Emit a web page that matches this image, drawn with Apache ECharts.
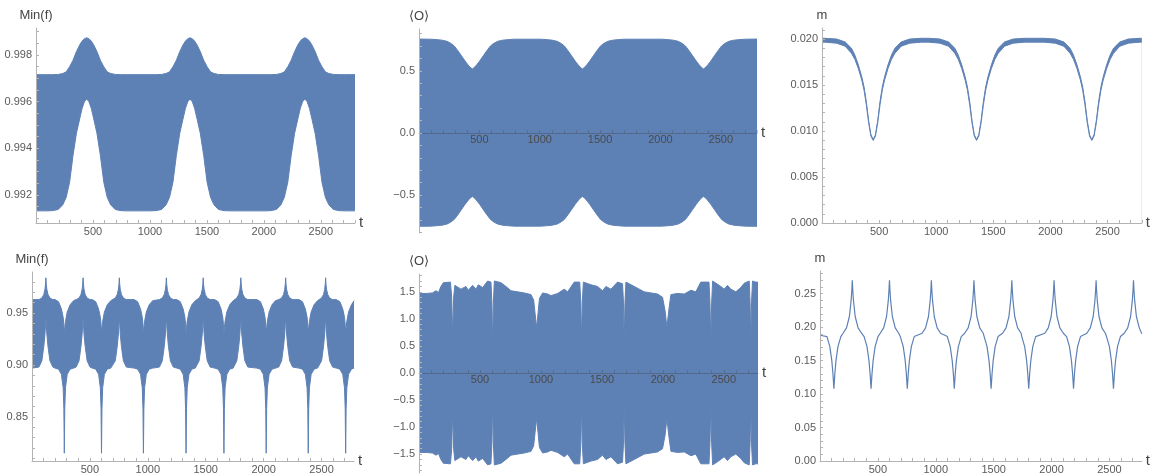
<!DOCTYPE html>
<html>
<head>
<meta charset="utf-8">
<script src="https://cdn.jsdelivr.net/npm/echarts@6/dist/echarts.min.js"></script>
<style>
html,body{margin:0;padding:0;background:#fff;}
#c{width:1151px;height:475px;}
</style>
</head>
<body>
<div id="c"></div>
<script>
// ---------- Panel 1: Min(f), top-left ----------
const T1 = [0,
 95,145,195,235,265,295,325,355,385,405,425,445,465,485,505,535,565,595,625,655,695,745,795,
 1002,1052,1102,1142,1172,1202,1232,1262,1292,1312,1332,1352,1372,1392,1412,1442,1472,1502,1532,1562,1602,1652,1702,
 2010,2060,2110,2150,2180,2210,2240,2270,2300,2320,2340,2360,2380,2400,2420,2450,2480,2510,2540,2570,2610,2660,2710,
 2800];
const F1_UPPER = [0.99716,
 0.99716,0.99716,0.99717,0.99721,0.99728,0.99750,0.99778,0.99815,0.99845,0.99860,0.99870,0.99874,0.99870,0.99860,0.99845,0.99815,0.99778,0.99750,0.99728,0.99721,0.99717,0.99716,0.99716,
 0.99716,0.99716,0.99717,0.99721,0.99728,0.99750,0.99778,0.99815,0.99845,0.99860,0.99870,0.99874,0.99870,0.99860,0.99845,0.99815,0.99778,0.99750,0.99728,0.99721,0.99717,0.99716,0.99716,
 0.99716,0.99716,0.99717,0.99721,0.99728,0.99750,0.99778,0.99815,0.99845,0.99860,0.99870,0.99874,0.99870,0.99860,0.99845,0.99815,0.99778,0.99750,0.99728,0.99721,0.99717,0.99716,0.99716,
 0.99716];
const F1_LOWER = [0.99132,
 0.99132,0.99133,0.99138,0.99158,0.99190,0.99255,0.99370,0.99465,0.99530,0.99572,0.99600,0.99612,0.99600,0.99572,0.99530,0.99465,0.99370,0.99255,0.99190,0.99158,0.99138,0.99133,0.99132,
 0.99132,0.99133,0.99138,0.99158,0.99190,0.99255,0.99370,0.99465,0.99530,0.99572,0.99600,0.99612,0.99600,0.99572,0.99530,0.99465,0.99370,0.99255,0.99190,0.99158,0.99138,0.99133,0.99132,
 0.99132,0.99133,0.99138,0.99158,0.99190,0.99255,0.99370,0.99465,0.99530,0.99572,0.99600,0.99612,0.99600,0.99572,0.99530,0.99465,0.99370,0.99255,0.99190,0.99158,0.99138,0.99133,0.99132,
 0.99132];

// ---------- Panel 2: <O>, top-middle ----------
const T2 = [0,
 92,142,192,232,262,292,322,352,382,402,422,442,462,482,502,532,562,592,622,652,692,742,792,
 1004,1054,1104,1144,1174,1204,1234,1264,1294,1314,1334,1354,1374,1394,1414,1444,1474,1504,1534,1564,1604,1654,1704,
 2007,2057,2107,2147,2177,2207,2237,2267,2297,2317,2337,2357,2377,2397,2417,2447,2477,2507,2537,2567,2607,2657,2707,
 2800];
const O2_UPPER = [0.755,
 0.754,0.751,0.746,0.737,0.722,0.700,0.662,0.620,0.578,0.553,0.530,0.515,0.530,0.553,0.578,0.620,0.662,0.700,0.722,0.737,0.746,0.751,0.754,
 0.754,0.751,0.746,0.737,0.722,0.700,0.662,0.620,0.578,0.553,0.530,0.515,0.530,0.553,0.578,0.620,0.662,0.700,0.722,0.737,0.746,0.751,0.754,
 0.754,0.751,0.746,0.737,0.722,0.700,0.662,0.620,0.578,0.553,0.530,0.515,0.530,0.553,0.578,0.620,0.662,0.700,0.722,0.737,0.746,0.751,0.754,
 0.755];
const O2_LOWER = [-0.750,
 -0.749,-0.746,-0.741,-0.732,-0.717,-0.695,-0.657,-0.615,-0.573,-0.548,-0.525,-0.510,-0.525,-0.548,-0.573,-0.615,-0.657,-0.695,-0.717,-0.732,-0.741,-0.746,-0.749,
 -0.749,-0.746,-0.741,-0.732,-0.717,-0.695,-0.657,-0.615,-0.573,-0.548,-0.525,-0.510,-0.525,-0.548,-0.573,-0.615,-0.657,-0.695,-0.717,-0.732,-0.741,-0.746,-0.749,
 -0.749,-0.746,-0.741,-0.732,-0.717,-0.695,-0.657,-0.615,-0.573,-0.548,-0.525,-0.510,-0.525,-0.548,-0.573,-0.615,-0.657,-0.695,-0.717,-0.732,-0.741,-0.746,-0.749,
 -0.750];

// ---------- Panel 3: m, top-right ----------
const T3 = [0,
 28,128,203,258,288,318,348,368,388,408,428,448,468,488,508,528,548,578,608,638,693,768,868,
 933,1033,1108,1163,1193,1223,1253,1273,1293,1313,1333,1353,1373,1393,1413,1433,1453,1483,1513,1543,1598,1673,1773,
 1942,2042,2117,2172,2202,2232,2262,2282,2302,2322,2342,2362,2382,2402,2422,2442,2462,2492,2522,2552,2607,2682,2782,
 2800];
const M3_UPPER = [0.02008,
 0.02008,0.02000,0.01968,0.01900,0.01825,0.01720,0.01590,0.01480,0.01320,0.01115,0.00960,0.00908,0.00960,0.01115,0.01320,0.01480,0.01590,0.01720,0.01825,0.01900,0.01968,0.02000,0.02008,
 0.02008,0.02000,0.01968,0.01900,0.01825,0.01720,0.01590,0.01480,0.01320,0.01115,0.00960,0.00908,0.00960,0.01115,0.01320,0.01480,0.01590,0.01720,0.01825,0.01900,0.01968,0.02000,0.02008,
 0.02008,0.02000,0.01968,0.01900,0.01825,0.01720,0.01590,0.01480,0.01320,0.01115,0.00960,0.00908,0.00960,0.01115,0.01320,0.01480,0.01590,0.01720,0.01825,0.01900,0.01968,0.02000,0.02008,
 0.02008];
const M3_LOWER = [0.01966,
 0.01966,0.01955,0.01922,0.01845,0.01778,0.01680,0.01555,0.01445,0.01285,0.01090,0.00945,0.00898,0.00945,0.01090,0.01285,0.01445,0.01555,0.01680,0.01778,0.01845,0.01922,0.01955,0.01966,
 0.01966,0.01955,0.01922,0.01845,0.01778,0.01680,0.01555,0.01445,0.01285,0.01090,0.00945,0.00898,0.00945,0.01090,0.01285,0.01445,0.01555,0.01680,0.01778,0.01845,0.01922,0.01955,0.01966,
 0.01966,0.01955,0.01922,0.01845,0.01778,0.01680,0.01555,0.01445,0.01285,0.01090,0.00945,0.00898,0.00945,0.01090,0.01285,0.01445,0.01555,0.01680,0.01778,0.01845,0.01922,0.01955,0.01966,
 0.01966];

// ---------- Bottom row shared time samples (panels 4 and 6) ----------
const TB = [0,
 60,85,102,112,117,120,123,128,138,155,180,
 199,229,254,269,275,279,283,289,304,329,359,
 381,406,423,433,438,441,444,449,459,476,501,
 520,550,575,590,596,600,604,610,625,650,680,
 694,719,736,746,751,754,757,762,772,789,814,
 882,912,937,952,958,962,966,972,987,1012,1042,
 1100,1125,1142,1152,1157,1160,1163,1168,1178,1195,1220,
 1250,1280,1305,1320,1326,1330,1334,1340,1355,1380,1410,
 1418,1443,1460,1470,1475,1478,1481,1486,1496,1513,1538,
 1577,1607,1632,1647,1653,1657,1661,1667,1682,1707,1737,
 1743,1768,1785,1795,1800,1803,1806,1811,1821,1838,1863,
 1942,1972,1997,2012,2018,2022,2026,2032,2047,2072,2102,
 2130,2155,2172,2182,2187,2190,2193,2198,2208,2225,2250,
 2305,2335,2360,2375,2381,2385,2389,2395,2410,2435,2465,
 2475,2500,2517,2527,2532,2535,2538,2543,2553,2570,2595,
 2628,2658,2683,2698,2704,2708,2712,2718,2733,2758,
 2780];

// ---------- Panel 4: Min(f), bottom-left ----------
const F4_UPPER = [0.963,
 0.963,0.9645,0.968,0.973,0.978,0.984,0.978,0.973,0.968,0.9645,0.963,
 0.963,0.961,0.954,0.946,0.939,0.930,0.936,0.942,0.951,0.958,0.962,
 0.963,0.9645,0.968,0.973,0.978,0.984,0.978,0.973,0.968,0.9645,0.963,
 0.963,0.961,0.954,0.946,0.939,0.930,0.936,0.942,0.951,0.958,0.962,
 0.963,0.9645,0.968,0.973,0.978,0.984,0.978,0.973,0.968,0.9645,0.963,
 0.963,0.961,0.954,0.946,0.939,0.930,0.936,0.942,0.951,0.958,0.962,
 0.963,0.9645,0.968,0.973,0.978,0.984,0.978,0.973,0.968,0.9645,0.963,
 0.963,0.961,0.954,0.946,0.939,0.930,0.936,0.942,0.951,0.958,0.962,
 0.963,0.9645,0.968,0.973,0.978,0.984,0.978,0.973,0.968,0.9645,0.963,
 0.963,0.961,0.954,0.946,0.939,0.930,0.936,0.942,0.951,0.958,0.962,
 0.963,0.9645,0.968,0.973,0.978,0.984,0.978,0.973,0.968,0.9645,0.963,
 0.963,0.961,0.954,0.946,0.939,0.930,0.936,0.942,0.951,0.958,0.962,
 0.963,0.9645,0.968,0.973,0.978,0.984,0.978,0.973,0.968,0.9645,0.963,
 0.963,0.961,0.954,0.946,0.939,0.930,0.936,0.942,0.951,0.958,0.962,
 0.963,0.9645,0.968,0.973,0.978,0.984,0.978,0.973,0.968,0.9645,0.963,
 0.963,0.961,0.954,0.946,0.939,0.930,0.936,0.942,0.951,0.958,
 0.962];
const F4_LOWER = [0.897,
 0.898,0.904,0.918,0.930,0.940,0.946,0.940,0.930,0.918,0.904,0.898,
 0.897,0.896,0.891,0.878,0.858,0.815,0.858,0.878,0.891,0.896,0.897,
 0.898,0.904,0.918,0.930,0.940,0.946,0.940,0.930,0.918,0.904,0.898,
 0.897,0.896,0.891,0.878,0.858,0.815,0.858,0.878,0.891,0.896,0.897,
 0.898,0.904,0.918,0.930,0.940,0.946,0.940,0.930,0.918,0.904,0.898,
 0.897,0.896,0.891,0.878,0.858,0.815,0.858,0.878,0.891,0.896,0.897,
 0.898,0.904,0.918,0.930,0.940,0.946,0.940,0.930,0.918,0.904,0.898,
 0.897,0.896,0.891,0.878,0.858,0.815,0.858,0.878,0.891,0.896,0.897,
 0.898,0.904,0.918,0.930,0.940,0.946,0.940,0.930,0.918,0.904,0.898,
 0.897,0.896,0.891,0.878,0.858,0.815,0.858,0.878,0.891,0.896,0.897,
 0.898,0.904,0.918,0.930,0.940,0.946,0.940,0.930,0.918,0.904,0.898,
 0.897,0.896,0.891,0.878,0.858,0.815,0.858,0.878,0.891,0.896,0.897,
 0.898,0.904,0.918,0.930,0.940,0.946,0.940,0.930,0.918,0.904,0.898,
 0.897,0.896,0.891,0.878,0.858,0.815,0.858,0.878,0.891,0.896,0.897,
 0.898,0.904,0.918,0.930,0.940,0.946,0.940,0.930,0.918,0.904,0.898,
 0.897,0.896,0.891,0.878,0.858,0.815,0.858,0.878,0.891,0.896,
 0.897];

// ---------- Panel 6: m, bottom-right ----------
const M6 = [0.188,
 0.186,0.171,0.150,0.130,0.116,0.108,0.116,0.130,0.150,0.171,0.186,
 0.191,0.199,0.216,0.240,0.256,0.270,0.256,0.240,0.216,0.199,0.191,
 0.186,0.171,0.150,0.130,0.116,0.108,0.116,0.130,0.150,0.171,0.186,
 0.191,0.199,0.216,0.240,0.256,0.270,0.256,0.240,0.216,0.199,0.191,
 0.186,0.171,0.150,0.130,0.116,0.108,0.116,0.130,0.150,0.171,0.186,
 0.191,0.199,0.216,0.240,0.256,0.270,0.256,0.240,0.216,0.199,0.191,
 0.186,0.171,0.150,0.130,0.116,0.108,0.116,0.130,0.150,0.171,0.186,
 0.191,0.199,0.216,0.240,0.256,0.270,0.256,0.240,0.216,0.199,0.191,
 0.186,0.171,0.150,0.130,0.116,0.108,0.116,0.130,0.150,0.171,0.186,
 0.191,0.199,0.216,0.240,0.256,0.270,0.256,0.240,0.216,0.199,0.191,
 0.186,0.171,0.150,0.130,0.116,0.108,0.116,0.130,0.150,0.171,0.186,
 0.191,0.199,0.216,0.240,0.256,0.270,0.256,0.240,0.216,0.199,0.191,
 0.186,0.171,0.150,0.130,0.116,0.108,0.116,0.130,0.150,0.171,0.186,
 0.191,0.199,0.216,0.240,0.256,0.270,0.256,0.240,0.216,0.199,0.191,
 0.186,0.171,0.150,0.130,0.116,0.108,0.116,0.130,0.150,0.171,0.186,
 0.191,0.199,0.216,0.240,0.256,0.270,0.256,0.240,0.216,0.199,
 0.190];

// ---------- Panel 5: <O>, bottom-middle ----------
const T5 = [0,60,110,139,160,180,200,258,268,276,284,294,303,344,385,404,440,467,486,522,563,590,598,604,610,618,631,672,713,754,809,863,918,940,952,964,976,988,1014,1055,1082,1137,1191,1219,1273,1318,1327,1333,1339,1348,1410,1464,1505,1533,1574,1628,1669,1677,1683,1689,1697,1710,1765,1806,1847,1902,1956,1997,2018,2033,2048,2066,2120,2175,2230,2270,2311,2378,2386,2393,2400,2408,2421,2462,2503,2530,2557,2598,2639,2667,2708,2715,2721,2727,2735,2760,2780];
const O5_UPPER = [1.47,1.47,1.48,1.52,1.49,1.60,1.67,1.68,1.40,0.70,1.40,1.62,1.60,1.55,1.60,1.53,1.62,1.55,1.63,1.58,1.70,1.68,1.30,0.52,1.30,1.70,1.70,1.67,1.60,1.52,1.50,1.48,1.45,1.35,1.10,0.84,1.10,1.38,1.48,1.46,1.43,1.47,1.55,1.50,1.68,1.68,1.30,0.56,1.30,1.68,1.63,1.60,1.52,1.60,1.55,1.68,1.65,1.30,0.56,1.30,1.68,1.68,1.60,1.55,1.50,1.48,1.46,1.40,1.15,0.84,1.15,1.45,1.47,1.46,1.53,1.50,1.68,1.68,1.30,0.60,1.30,1.70,1.70,1.62,1.55,1.62,1.55,1.50,1.58,1.66,1.70,1.30,0.60,1.30,1.70,1.68,1.68];
const O5_LOWER = [-1.47,-1.47,-1.48,-1.52,-1.49,-1.60,-1.67,-1.68,-1.40,-0.70,-1.40,-1.62,-1.60,-1.55,-1.60,-1.53,-1.62,-1.55,-1.63,-1.58,-1.70,-1.68,-1.30,-0.52,-1.30,-1.70,-1.70,-1.67,-1.60,-1.52,-1.50,-1.48,-1.45,-1.35,-1.10,-0.84,-1.10,-1.38,-1.48,-1.46,-1.43,-1.47,-1.55,-1.50,-1.68,-1.68,-1.30,-0.56,-1.30,-1.68,-1.63,-1.60,-1.52,-1.60,-1.55,-1.68,-1.65,-1.30,-0.56,-1.30,-1.68,-1.68,-1.60,-1.55,-1.50,-1.48,-1.46,-1.40,-1.15,-0.84,-1.15,-1.45,-1.47,-1.46,-1.53,-1.50,-1.68,-1.68,-1.30,-0.60,-1.30,-1.70,-1.70,-1.62,-1.55,-1.62,-1.55,-1.50,-1.58,-1.66,-1.70,-1.30,-0.60,-1.30,-1.70,-1.68,-1.68];

// ---------- Tick labels ----------
const X_LABELS = [500, 1000, 1500, 2000, 2500];
const Y1_LABELS = [0.992, 0.994, 0.996, 0.998];
const Y2_LABELS = [-0.5, 0, 0.5];
const Y3_LABELS = [0, 0.005, 0.010, 0.015, 0.020];
const Y4_LABELS = [0.85, 0.90, 0.95];
const Y5_LABELS = [-1.5, -1.0, -0.5, 0, 0.5, 1.0, 1.5];
const Y6_LABELS = [0, 0.05, 0.10, 0.15, 0.20, 0.25];
const NAMES = ['Min(f)', '\u27E8O\u27E9', 'm', 'Min(f)', '\u27E8O\u27E9', 'm'];

// ---------- Build chart ----------
const BLUE = '#5E81B5';
const AXIS_C = '#b3b3b3';
const LABEL_C = '#5a5a5a';
const FONT = '"Liberation Sans", Arial, sans-serif';

function steps(a, b, s) { const r = []; for (let v = a; v <= b + s / 2; v += s) r.push(+v.toFixed(6)); return r; }
function fmt(dec) { return v => { const s = Math.abs(v).toFixed(dec); return (v < -1e-12 ? '\u2212' : '') + s; }; }
function zip(T, V) { return T.map((t, i) => [t, V[i]]); }

// xOff: shift of the x axis up to the y=0 line (panels with symmetric range)
const layouts = [
  { left: 36,  top: 28,  width: 319, height: 195, xmax: 2800, ymin: 0.9908, ymax: 0.99916, yl: Y1_LABELS, yt: steps(0.991, 0.999, 0.0005), dec: 3, xOff: 0 },
  { left: 419, top: 29,  width: 338, height: 204, xmax: 2800, ymin: -0.804, ymax: 0.836,  yl: Y2_LABELS, yt: steps(-0.8, 0.8, 0.1), dec: 1, xOff: -100 },
  { left: 822, top: 28,  width: 325, height: 195, xmax: 2800, ymin: 0, ymax: 0.0212,      yl: Y3_LABELS, yt: steps(0.001, 0.021, 0.001), dec: 3, xOff: 0 },
  { left: 32,  top: 272, width: 322, height: 193, xmax: 2780, ymin: 0.8075, ymax: 0.9896, yl: Y4_LABELS, yt: steps(0.81, 0.98, 0.01), dec: 2, xOff: 0 },
  { left: 419, top: 274, width: 339, height: 199, xmax: 2780, ymin: -1.85, ymax: 1.83,    yl: Y5_LABELS, yt: steps(-1.8, 1.8, 0.1), dec: 1, xOff: -100 },
  { left: 820, top: 271, width: 325, height: 195, xmax: 2780, ymin: 0, ymax: 0.284,       yl: Y6_LABELS, yt: steps(0.01, 0.28, 0.01), dec: 2, xOff: 0 }
];

const grid = [], xAxis = [], yAxis = [], series = [];
layouts.forEach((L, i) => {
  const inner = L.xOff !== 0;
  grid.push({ left: L.left, top: L.top, width: L.width, height: L.height, containLabel: false });
  xAxis.push({
    type: 'value', gridIndex: i, min: 0, max: L.xmax, z: 10, position: 'bottom', offset: L.xOff,
    name: 't', nameLocation: 'end', nameGap: 4,
    nameTextStyle: { color: '#444', fontSize: 15, fontFamily: FONT },
    axisLine: { show: true, onZero: false, lineStyle: { color: inner ? 'rgba(60,60,60,0.35)' : AXIS_C, width: 1 } },
    axisTick: { show: true, inside: true, length: 3, customValues: steps(100, L.xmax - 50, 100), lineStyle: { color: inner ? 'rgba(60,60,60,0.3)' : AXIS_C } },
    axisLabel: { show: true, customValues: X_LABELS, color: inner ? '#4a4a4a' : LABEL_C, fontSize: 11, fontFamily: FONT, margin: inner ? 1 : 3, formatter: v => String(Math.round(v)) },
    splitLine: { show: false }
  });
  yAxis.push({
    type: 'value', gridIndex: i, min: L.ymin, max: L.ymax, z: 10,
    name: NAMES[i], nameLocation: 'end', nameGap: 6,
    nameTextStyle: { color: '#444', fontSize: 13, fontFamily: FONT },
    axisLine: { show: true, onZero: false, lineStyle: { color: AXIS_C, width: 1 } },
    axisTick: { show: true, inside: true, length: 3, customValues: L.yt, lineStyle: { color: AXIS_C } },
    axisLabel: { show: true, customValues: L.yl, color: LABEL_C, fontSize: 11, fontFamily: FONT, margin: 4, formatter: fmt(L.dec) },
    splitLine: { show: false }
  });
});

function band(i, T, U, Lo) {
  series.push({
    type: 'line', xAxisIndex: i, yAxisIndex: i, data: zip(T, U), showSymbol: false, z: 2,
    lineStyle: { color: BLUE, width: 1 }, areaStyle: { color: BLUE, opacity: 1, origin: 'start' }, silent: true
  });
  series.push({
    type: 'line', xAxisIndex: i, yAxisIndex: i, data: zip(T, Lo), showSymbol: false, z: 3,
    lineStyle: { color: BLUE, width: 1 }, areaStyle: { color: '#ffffff', opacity: 1, origin: 'start' }, silent: true
  });
}
band(0, T1, F1_UPPER, F1_LOWER);
band(1, T2, O2_UPPER, O2_LOWER);
band(2, T3, M3_UPPER, M3_LOWER);
band(3, TB, F4_UPPER, F4_LOWER);
band(4, T5, O5_UPPER, O5_LOWER);
series.push({
  type: 'line', xAxisIndex: 5, yAxisIndex: 5, data: zip(TB, M6), showSymbol: false, z: 2,
  lineStyle: { color: BLUE, width: 1.2 }, silent: true
});

const chart = echarts.init(document.getElementById('c'), null, { renderer: 'canvas' });
chart.setOption({ animation: false, backgroundColor: '#ffffff', grid, xAxis, yAxis, series });
</script>
</body>
</html>
